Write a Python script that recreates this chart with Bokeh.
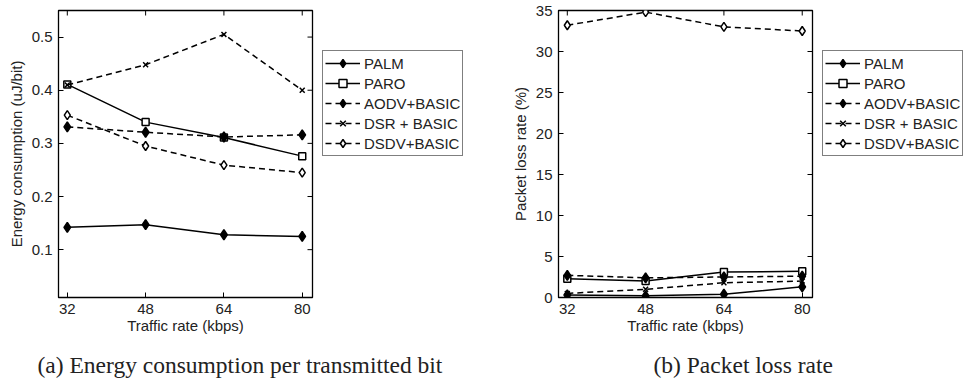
import math
from bokeh.plotting import figure
from bokeh.models import Legend, LegendItem, FixedTicker, Range1d, Label
from bokeh.layouts import row, column
from bokeh.embed import file_html
from bokeh.resources import INLINE

rates = [32, 48, 64, 80]
series_names = ["PALM", "PARO", "AODV+BASIC", "DSR + BASIC", "DSDV+BASIC"]

energy_palm = [0.142, 0.147, 0.128, 0.125]
energy_paro = [0.411, 0.340, 0.311, 0.276]
energy_aodv = [0.331, 0.321, 0.312, 0.316]
energy_dsr = [0.410, 0.448, 0.505, 0.400]
energy_dsdv = [0.353, 0.295, 0.259, 0.245]

loss_palm = [0.3, 0.2, 0.4, 1.3]
loss_paro = [2.3, 2.0, 3.1, 3.2]
loss_aodv = [2.7, 2.4, 2.5, 2.6]
loss_dsr = [0.5, 1.0, 1.8, 2.0]
loss_dsdv = [33.2, 34.8, 33.0, 32.5]

rate_ticks = [32, 48, 64, 80]
energy_ticks = [0.1, 0.2, 0.3, 0.4, 0.5]
loss_ticks = [0, 5, 10, 15, 20, 25, 30, 35]

caption_a = "(a) Energy consumption per transmitted bit"
caption_b = "(b) Packet loss rate"

SANS = "Liberation Sans"
SERIF = "Liberation Serif"

styles = [
    dict(dash="solid", marker="diamond", fill="black", size=10),
    dict(dash="solid", marker="square", fill="white", size=7),
    dict(dash="6 4", marker="diamond", fill="black", size=10),
    dict(dash="6 4", marker="x", fill="black", size=7),
    dict(dash="6 4", marker="diamond", fill="white", size=9),
]


def blank_fig(width, height, top=0, bottom=0):
    f = figure(width=width, height=height, output_backend="svg", toolbar_location=None,
               x_range=Range1d(0, 1), y_range=Range1d(0, 1),
               x_axis_type=None, y_axis_type=None,
               min_border_left=0, min_border_right=0, min_border_top=top,
               min_border_bottom=bottom)
    f.grid.visible = False
    f.outline_line_color = None
    f.background_fill_color = "white"
    f.border_fill_color = "white"
    return f


def make_panel(series, x_range, y_range, y_ticks, y_label, left_border):
    p = figure(frame_width=254, frame_height=287, output_backend="svg",
               toolbar_location=None, x_range=Range1d(*x_range),
               y_range=Range1d(*y_range),
               min_border_left=left_border, min_border_right=8,
               min_border_top=10, min_border_bottom=43)
    p.grid.visible = False
    p.outline_line_color = "black"
    p.outline_line_width = 1.3
    p.background_fill_color = "white"
    p.border_fill_color = "white"

    for ax in (p.xaxis[0], p.yaxis[0]):
        ax.major_tick_in = 5
        ax.major_tick_out = 0
        ax.minor_tick_line_color = None
        ax.axis_line_color = "black"
        ax.major_label_text_font = SANS
        ax.major_label_text_font_size = "15px"
        ax.major_label_text_color = "#222222"
        ax.axis_label_text_font = SANS
        ax.axis_label_text_font_style = "normal"
        ax.axis_label_text_color = "#222222"
    p.xaxis.ticker = FixedTicker(ticks=rate_ticks)
    p.yaxis.ticker = FixedTicker(ticks=y_ticks)
    p.xaxis.axis_label = "Traffic rate (kbps)"
    p.xaxis.axis_label_text_font_size = "15px"
    p.xaxis.axis_label_standoff = 0
    p.xaxis.major_label_standoff = 6
    p.yaxis.axis_label = y_label
    p.yaxis.axis_label_text_font_size = "15px"
    p.yaxis.axis_label_standoff = 4
    p.yaxis.major_label_standoff = 6

    # mirrored inward ticks on top and right edges (clipped to the frame)
    p.scatter(rate_ticks, [y_range[1]] * len(rate_ticks), marker="dash", angle=math.pi / 2,
              size=10, line_color="black", line_width=1)
    p.scatter([x_range[1]] * len(y_ticks), y_ticks, marker="dash",
              size=10, line_color="black", line_width=1)

    for ys, st in zip(series, styles):
        p.line(rates, ys, line_color="black", line_width=1.5, line_dash=st["dash"])
        p.scatter(rates, ys, marker=st["marker"], size=st["size"], line_color="black",
                  fill_color=st["fill"], line_width=1.5)
    return p


def make_legend(width):
    lf = blank_fig(width, 340, top=10, bottom=43)
    items = []
    nan = [float("nan")]
    for name, st in zip(series_names, styles):
        ln = lf.line(nan, nan, line_color="black", line_width=1.5, line_dash=st["dash"])
        mk = lf.scatter(nan, nan, marker=st["marker"], size=st["size"], line_color="black",
                        fill_color=st["fill"], line_width=1.5)
        items.append(LegendItem(label=name, renderers=[ln, mk]))
    legend = Legend(items=items, location=(2, 141), border_line_color="black",
                    border_line_width=1.3, glyph_width=35, glyph_height=20,
                    label_height=20, spacing=0, padding=2, margin=0, label_standoff=4,
                    label_text_font=SANS, label_text_font_size="15px",
                    label_text_color="#222222", background_fill_alpha=1)
    lf.add_layout(legend, "center")
    return lf


def make_caption(text, x):
    cf = blank_fig(486, 41)
    cf.add_layout(Label(x=x, y=17, x_units="screen", y_units="screen", text=text,
                        text_font=SERIF, text_font_size="23.5px", text_color="#222222",
                        text_baseline="alphabetic"))
    return cf


p1 = make_panel([energy_palm, energy_paro, energy_aodv, energy_dsr, energy_dsdv],
                (30.2, 82.1), (0.01, 0.55), energy_ticks, "Energy consumption (uJ/bit)", 58)
p2 = make_panel([loss_palm, loss_paro, loss_aodv, loss_dsr, loss_dsdv],
                (30.2, 82.1), (0, 35), loss_ticks, "Packet loss rate (%)", 72)

layout = column(row(p1, make_legend(166), p2, make_legend(152)),
                row(make_caption(caption_a, 37), make_caption(caption_b, 167)))
open("out.html", "w").write(file_html(layout, INLINE))
